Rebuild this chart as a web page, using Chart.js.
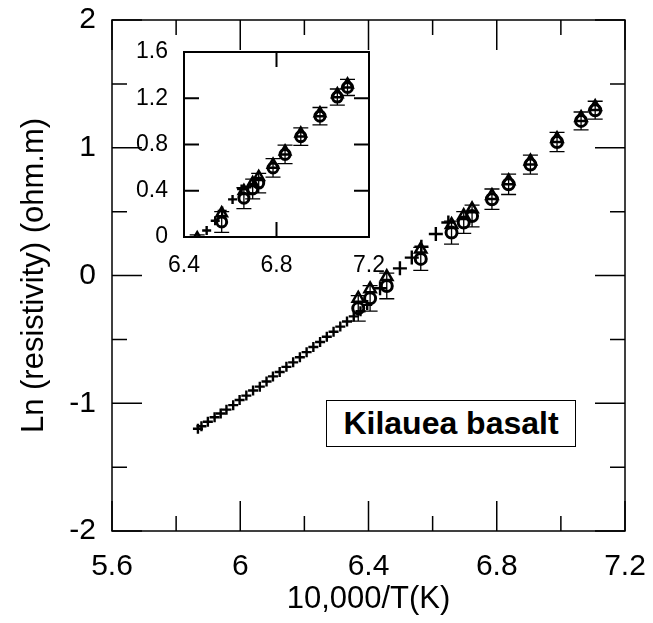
<!DOCTYPE html>
<html>
<head>
<meta charset="utf-8">
<title>Kilauea basalt</title>
<script src="https://cdn.jsdelivr.net/npm/chart.js@4.4.1/dist/chart.umd.min.js"></script>
<style>
  body { margin: 0; background: #fff; }
  #wrap { position: relative; width: 653px; height: 623px; }
  #mainChart { position: absolute; left: 0; top: 0; }
  #insetChart { position: absolute; left: 120px; top: 30px; }
  #label {
    position: absolute; left: 326px; top: 400px; width: 250px; height: 47px;
    box-sizing: border-box; border: 1.5px solid #000; background: #fff;
    font: bold 32px "Liberation Sans", Arial, sans-serif;
    text-align: center; line-height: 44px; color: #000;
  }
</style>
</head>
<body>
<div id="wrap">
  <canvas id="mainChart" width="653" height="623"></canvas>
  <canvas id="insetChart" width="290" height="260"></canvas>
  <div id="label">Kilauea basalt</div>
</div>
<script>
// plus markers, low-temperature run (small)
const plusLowX = [5.868, 5.879, 5.899, 5.92, 5.939, 5.957, 5.978, 5.998, 6.019, 6.04, 6.061,
  6.082, 6.102, 6.123, 6.144, 6.165, 6.186, 6.207, 6.228, 6.249, 6.27, 6.291, 6.312,
  6.333, 6.354, 6.375, 6.396];
const plusLowY = [-1.2, -1.18, -1.145, -1.11, -1.08, -1.05, -1.015, -0.975, -0.94, -0.9, -0.87,
  -0.83, -0.79, -0.755, -0.715, -0.68, -0.64, -0.6, -0.56, -0.52, -0.48, -0.44, -0.4,
  -0.36, -0.32, -0.28, -0.23];
// plus markers, second run (larger)
const plusHighX = [6.436, 6.498, 6.535, 6.565, 6.61, 6.649];
const plusHighY = [-0.1, 0.056, 0.14, 0.225, 0.325, 0.415];

// open circles with error bars, and the triangles measured at the same temperatures
const circleX = [6.368, 6.405, 6.457, 6.563, 6.659, 6.697, 6.723, 6.785, 6.837, 6.905, 6.988, 7.063, 7.107];
const circleY = [-0.257, -0.179, -0.082, 0.13, 0.336, 0.415, 0.466, 0.597, 0.714, 0.868, 1.045, 1.21, 1.294];
const circleErr = [0.1, 0.1, 0.1, 0.09, 0.09, 0.085, 0.085, 0.08, 0.08, 0.075, 0.075, 0.07, 0.07];
const triY = [-0.18, -0.105, -0.01, 0.205, 0.398, 0.467, 0.52, 0.625, 0.74, 0.895, 1.07, 1.235, 1.32];

// tick labels
const mainXTicks = [5.6, 6, 6.4, 6.8, 7.2];
const mainYTicks = [-2, -1, 0, 1, 2];
const insetXTicks = [6.4, 6.8, 7.2];
const insetYTicks = [0, 0.4, 0.8, 1.2, 1.6];

const FONT = "'Liberation Sans', Arial, sans-serif";

function near(v, list) {
  return list.some((t) => Math.abs(t - v) < 1e-6);
}

function tickLabel(list) {
  return (value) => (near(value, list) ? String(+value.toFixed(1)) : "");
}

// keep the plot box where it is: no extra room for overhanging labels
function fixSize(w, h) {
  return (s) => {
    if (w) s.width = w;
    if (h) s.height = h;
    s.paddingTop = 0;
    s.paddingBottom = 0;
    s.paddingLeft = 0;
    s.paddingRight = 0;
  };
}

function pts(xs, ys) {
  return xs.map((x, i) => ({ x, y: ys[i] }));
}

function buildDatasets(r) {
  return [
    {
      label: "circles",
      data: pts(circleX, circleY),
      pointStyle: "circle",
      pointRadius: r.circle,
      borderWidth: 3,
      borderColor: "#000",
      backgroundColor: "rgba(0,0,0,0)",
    },
    {
      label: "triangles",
      data: pts(circleX, triY),
      pointStyle: "triangle",
      pointRadius: r.tri,
      borderWidth: 2.5,
      borderColor: "#000",
      backgroundColor: "rgba(0,0,0,0)",
    },
    {
      label: "plus (run 1)",
      data: pts(plusLowX, plusLowY),
      pointStyle: "cross",
      pointRadius: r.plusLow,
      borderWidth: 2.4,
      borderColor: "#000",
    },
    {
      label: "plus (run 2)",
      data: pts(plusHighX, plusHighY),
      pointStyle: "cross",
      pointRadius: r.plusHigh,
      borderWidth: 2.4,
      borderColor: "#000",
    },
  ];
}

// inward ticks on all four sides plus the frame
function frameTicks(id, majorLen, minorLen, xMajor, yMajor, lw) {
  return {
    id,
    beforeDraw(chart) {
      const a = chart.chartArea;
      chart.ctx.save();
      chart.ctx.fillStyle = "#fff";
      chart.ctx.fillRect(a.left, a.top, a.right - a.left, a.bottom - a.top);
      chart.ctx.restore();
    },
    afterDraw(chart) {
      const { ctx, chartArea: a, scales } = chart;
      ctx.save();
      ctx.strokeStyle = "#000";
      ctx.lineWidth = lw;
      ctx.beginPath();
      scales.x.ticks.forEach((t) => {
        const px = scales.x.getPixelForValue(t.value);
        const len = near(t.value, xMajor) ? majorLen : minorLen;
        ctx.moveTo(px, a.bottom);
        ctx.lineTo(px, a.bottom - len);
        ctx.moveTo(px, a.top);
        ctx.lineTo(px, a.top + len);
      });
      scales.y.ticks.forEach((t) => {
        const py = scales.y.getPixelForValue(t.value);
        const len = near(t.value, yMajor) ? majorLen : minorLen;
        ctx.moveTo(a.left, py);
        ctx.lineTo(a.left + len, py);
        ctx.moveTo(a.right, py);
        ctx.lineTo(a.right - len, py);
      });
      ctx.stroke();
      ctx.strokeRect(a.left, a.top, a.right - a.left, a.bottom - a.top);
      ctx.restore();
    },
  };
}

const errorBars = {
  id: "errorBars",
  beforeDatasetsDraw(chart) {
    const { ctx, chartArea: a, scales } = chart;
    ctx.save();
    ctx.beginPath();
    ctx.rect(a.left, a.top, a.right - a.left, a.bottom - a.top);
    ctx.clip();
    ctx.strokeStyle = "#000";
    ctx.lineWidth = 1.3;
    ctx.beginPath();
    circleX.forEach((x, i) => {
      const px = scales.x.getPixelForValue(x);
      const hi = scales.y.getPixelForValue(circleY[i] + circleErr[i]);
      const lo = scales.y.getPixelForValue(circleY[i] - circleErr[i]);
      ctx.moveTo(px, hi);
      ctx.lineTo(px, lo);
      ctx.moveTo(px - 7.5, hi);
      ctx.lineTo(px + 7.5, hi);
      ctx.moveTo(px - 7.5, lo);
      ctx.lineTo(px + 7.5, lo);
    });
    ctx.stroke();
    ctx.restore();
  },
};

new Chart(document.getElementById("mainChart"), {
  type: "scatter",
  data: { datasets: buildDatasets({ circle: 5.5, tri: 6.5, plusLow: 5, plusHigh: 7 }) },
  options: {
    responsive: false,
    animation: false,
    layout: { padding: { top: 20, right: 28, left: 0, bottom: 0 } },
    plugins: { legend: { display: false }, tooltip: { enabled: false } },
    scales: {
      x: {
        type: "linear",
        min: mainXTicks[0],
        max: mainXTicks[mainXTicks.length - 1],
        afterFit: fixSize(0, 92),
        grid: { display: false, drawTicks: false, tickLength: 0 },
        border: { display: false },
        ticks: {
          stepSize: 0.2,
          autoSkip: false,
          maxRotation: 0,
          padding: 18,
          color: "#000",
          font: { family: FONT, size: 30 },
          callback: tickLabel(mainXTicks),
        },
        title: {
          display: true,
          text: "10,000/T(K)",
          color: "#000",
          font: { family: FONT, size: 31 },
          padding: { top: 0, bottom: 5 },
        },
      },
      y: {
        type: "linear",
        min: mainYTicks[0],
        max: mainYTicks[mainYTicks.length - 1],
        afterFit: fixSize(112, 0),
        grid: { display: false, drawTicks: false, tickLength: 0 },
        border: { display: false },
        ticks: {
          stepSize: 0.5,
          autoSkip: false,
          padding: 16,
          color: "#000",
          font: { family: FONT, size: 30 },
          callback: tickLabel(mainYTicks),
        },
        title: {
          display: true,
          text: "Ln (resistivity) (ohm.m)",
          color: "#000",
          font: { family: FONT, size: 31 },
          padding: { top: 16, bottom: 0 },
        },
      },
    },
  },
  plugins: [errorBars, frameTicks("mainFrame", 30, 15, mainXTicks, mainYTicks, 1.5)],
});

new Chart(document.getElementById("insetChart"), {
  type: "scatter",
  data: { datasets: buildDatasets({ circle: 5, tri: 6, plusLow: 4, plusHigh: 4.5 }) },
  options: {
    responsive: false,
    animation: false,
    layout: { padding: { top: 22, right: 41, left: 0, bottom: 0 } },
    plugins: { legend: { display: false }, tooltip: { enabled: false } },
    scales: {
      x: {
        type: "linear",
        min: insetXTicks[0],
        max: insetXTicks[insetXTicks.length - 1],
        afterFit: fixSize(0, 53),
        grid: { display: false, drawTicks: false, tickLength: 0 },
        border: { display: false },
        ticks: {
          stepSize: 0.4,
          autoSkip: false,
          maxRotation: 0,
          padding: 15,
          color: "#000",
          font: { family: FONT, size: 23 },
          callback: tickLabel(insetXTicks),
        },
      },
      y: {
        type: "linear",
        min: insetYTicks[0],
        max: insetYTicks[insetYTicks.length - 1],
        afterFit: fixSize(64, 0),
        grid: { display: false, drawTicks: false, tickLength: 0 },
        border: { display: false },
        ticks: {
          stepSize: 0.4,
          autoSkip: false,
          padding: 16,
          color: "#000",
          font: { family: FONT, size: 23 },
          callback: tickLabel(insetYTicks),
        },
      },
    },
  },
  plugins: [errorBars, frameTicks("insetFrame", 15, 15, insetXTicks, insetYTicks, 2)],
});
</script>
</body>
</html>
